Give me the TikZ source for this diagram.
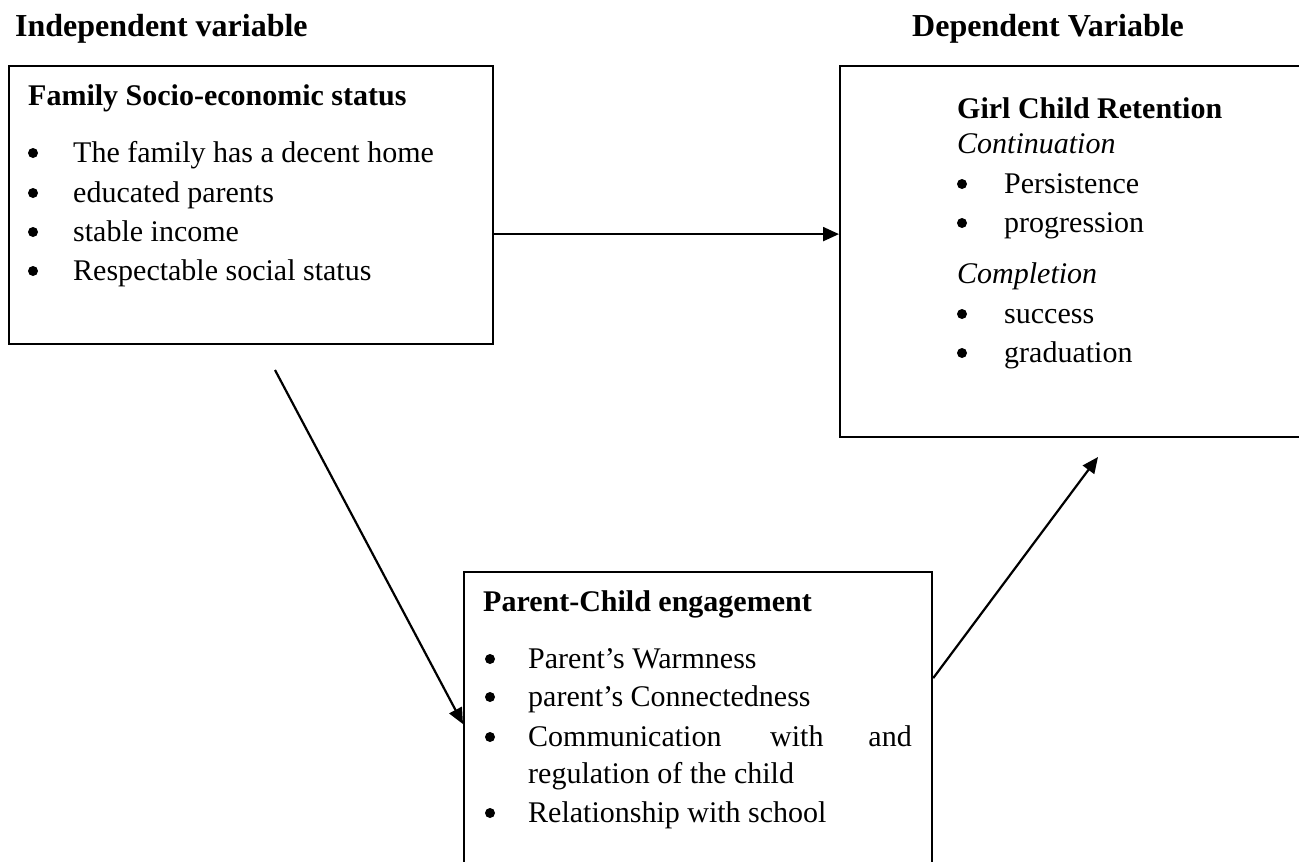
\documentclass[tikz,border=0pt]{standalone}
\usepackage{fontspec}
\setmainfont{Liberation Serif}
\usetikzlibrary{arrows.meta}
\begin{document}
\begin{tikzpicture}[x=1pt,y=-1pt,
  box/.style={draw, line width=2.2pt, inner sep=0pt, anchor=north west},
  tx/.style={anchor=base west, inner sep=0pt, font=\fontsize{30}{36}\selectfont},
  txe/.style={anchor=base east, inner sep=0pt, font=\fontsize{30}{36}\selectfont},
  bul/.style={circle, fill, draw=none, inner sep=0pt, minimum size=10pt},
  hd/.style={tx, font=\fontsize{30}{36}\selectfont\bfseries},
  top/.style={tx, font=\fontsize{32}{38}\selectfont\bfseries},
  it/.style={tx, font=\fontsize{30}{36}\selectfont\itshape},
  arr/.style={line width=2.2pt, -{Triangle[length=16pt,width=14pt]}}]
\useasboundingbox (0,0) rectangle (1299,862);
\clip (0,0) rectangle (1299,862);
\fill[white] (0,0) rectangle (1299,862);

% headings
\node[top] (hind) at (15,36) {Independent variable};
\node[top] (hdep) at (912,36) {Dependent Variable};

% boxes
\node[box, minimum width=484pt, minimum height=278pt] (fam) at (8,65) {};
\node[box, minimum width=480pt, minimum height=371pt] (ret) at (839,65) {};
\node[box, minimum width=468pt, minimum height=330pt] (eng) at (463,571) {};

% box 1 text
\node[hd] (t1) at (28,105) {Family Socio-economic status};
\node[bul] (b11) at (33,153) {};
\node[tx] (t11) at (73,162) {The family has a decent home};
\node[bul] (b12) at (33,193) {};
\node[tx] (t12) at (73,202) {educated parents};
\node[bul] (b13) at (33,232) {};
\node[tx] (t13) at (73,241) {stable income};
\node[bul] (b14) at (33,271) {};
\node[tx] (t14) at (73,280) {Respectable social status};

% box 2 text
\node[hd] (t2) at (957,118) {Girl Child Retention};
\node[it] (t2a) at (957,153) {Continuation};
\node[bul] (b21) at (962,184) {};
\node[tx] (t21) at (1004,193) {Persistence};
\node[bul] (b22) at (962,223) {};
\node[tx] (t22) at (1004,232) {progression};
\node[it] (t2b) at (957,283) {Completion};
\node[bul] (b23) at (962,314) {};
\node[tx] (t23) at (1004,323) {success};
\node[bul] (b24) at (962,353) {};
\node[tx] (t24) at (1004,362) {graduation};

% box 3 text
\node[hd] (t3) at (483,611) {Parent-Child engagement};
\node[bul] (b31) at (490,659) {};
\node[tx] (t31) at (528,668) {Parent’s Warmness};
\node[bul] (b32) at (490,697) {};
\node[tx] (t32) at (528,706) {parent’s Connectedness};
\node[bul] (b33) at (490,737) {};
\node[tx] (t33a) at (528,746) {Communication};
\node[tx] (t33b) at (770,746) {with};
\node[txe] (t33c) at (912,746) {and};
\node[tx] (t33d) at (528,783) {regulation of the child};
\node[bul] (b34) at (490,813) {};
\node[tx] (t34) at (528,822) {Relationship with school};

% connectors
\coordinate (a2s) at (275,370);
\coordinate (a3e) at (1098,457);
\draw[arr] ([yshift=-29pt]fam.east) -- ([yshift=17.5pt]ret.west);
\draw[arr] (a2s) -- ([yshift=13pt]eng.west);
\draw[arr] ([yshift=59pt]eng.east) -- (a3e);
\end{tikzpicture}
\end{document}
